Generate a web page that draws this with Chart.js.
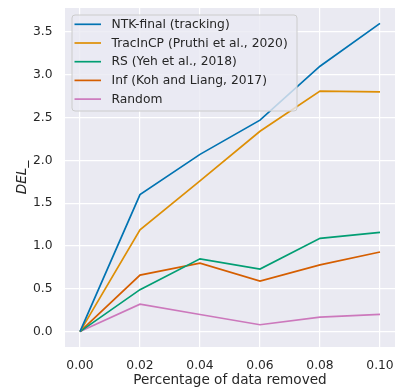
<!DOCTYPE html>
<html>
<head>
<meta charset="utf-8">
<script src="https://cdn.jsdelivr.net/npm/chart.js@4.4.0/dist/chart.umd.min.js"></script>
<style>
  html, body { margin: 0; padding: 0; background: #ffffff; }
  #wrap { width: 400px; height: 392px; }
</style>
</head>
<body>
<div id="wrap"><canvas id="c" width="400" height="392"></canvas></div>
<script>
// ---- data ----
const xValues = [0.00, 0.02, 0.04, 0.06, 0.08, 0.10];
const seriesNames = [
  "NTK-final (tracking)",
  "TracInCP (Pruthi et al., 2020)",
  "RS (Yeh et al., 2018)",
  "Inf (Koh and Liang, 2017)",
  "Random"
];
const ntkFinal = [0.00, 1.60, 2.07, 2.47, 3.10, 3.60];
const tracInCP = [0.00, 1.19, 1.76, 2.34, 2.81, 2.80];
const rsYeh    = [0.00, 0.49, 0.85, 0.73, 1.09, 1.16];
const infKoh   = [0.00, 0.66, 0.80, 0.59, 0.78, 0.93];
const randomS  = [0.00, 0.32, 0.20, 0.08, 0.17, 0.20];
const xTicks = [0.00, 0.02, 0.04, 0.06, 0.08, 0.10];
const yTicks = [0.0, 0.5, 1.0, 1.5, 2.0, 2.5, 3.0, 3.5];
const xTitle = "Percentage of data removed";
const yTitle = "DEL_";

const seriesValues = [ntkFinal, tracInCP, rsYeh, infKoh, randomS];
const colors = ["#0173B2", "#DE8F05", "#029E73", "#D55E00", "#CC78BC"];

const datasets = seriesNames.map((name, i) => ({
  label: name,
  data: xValues.map((x, j) => ({ x: x, y: seriesValues[i][j] })),
  borderColor: colors[i],
  backgroundColor: colors[i],
  borderWidth: 1.7,
  pointRadius: 0,
  tension: 0,
  fill: false
}));

const FONT = "'DejaVu Sans', 'Liberation Sans', sans-serif";

function zeroPad(scale) {
  scale.paddingTop = 0; scale.paddingBottom = 0;
  scale.paddingLeft = 0; scale.paddingRight = 0;
}

const bgPlugin = {
  id: 'bg',
  beforeDraw(chart) {
    const { ctx, chartArea: a } = chart;
    ctx.save();
    ctx.fillStyle = '#EAEAF2';
    ctx.fillRect(a.left, a.top, a.right - a.left, a.bottom - a.top);
    ctx.restore();
  }
};

const legendPlugin = {
  id: 'mplLegend',
  afterDatasetsDraw(chart) {
    const { ctx, chartArea: a } = chart;
    const bx = a.left + 7, by = a.top + 7, bw = 225, bh = 96, r = 3;
    ctx.save();
    ctx.beginPath();
    ctx.moveTo(bx + r, by);
    ctx.lineTo(bx + bw - r, by);
    ctx.quadraticCurveTo(bx + bw, by, bx + bw, by + r);
    ctx.lineTo(bx + bw, by + bh - r);
    ctx.quadraticCurveTo(bx + bw, by + bh, bx + bw - r, by + bh);
    ctx.lineTo(bx + r, by + bh);
    ctx.quadraticCurveTo(bx, by + bh, bx, by + bh - r);
    ctx.lineTo(bx, by + r);
    ctx.quadraticCurveTo(bx, by, bx + r, by);
    ctx.closePath();
    ctx.fillStyle = 'rgba(234,234,242,0.8)';
    ctx.fill();
    ctx.strokeStyle = '#CCCCCC';
    ctx.lineWidth = 1;
    ctx.stroke();
    ctx.font = "12.3px " + FONT;
    ctx.textBaseline = 'middle';
    ctx.textAlign = 'left';
    chart.data.datasets.forEach((ds, i) => {
      const cy = by + 9.3 + i * 18.7;
      ctx.strokeStyle = ds.borderColor;
      ctx.lineWidth = 1.7;
      ctx.beginPath();
      ctx.moveTo(bx + 2.5, cy);
      ctx.lineTo(bx + 29, cy);
      ctx.stroke();
      ctx.fillStyle = '#262626';
      ctx.fillText(ds.label, bx + 39.5, cy + 0.5);
    });
    ctx.restore();
  }
};

new Chart(document.getElementById('c'), {
  type: 'line',
  data: { datasets: datasets },
  options: {
    responsive: false,
    animation: false,
    devicePixelRatio: 1,
    layout: { padding: { top: 8, right: 5, left: 0, bottom: 0 } },
    plugins: {
      legend: { display: false },
      tooltip: { enabled: false }
    },
    scales: {
      x: {
        type: 'linear',
        min: -0.005,
        max: 0.105,
        afterFit(scale) { scale.height = 45; zeroPad(scale); },
        afterBuildTicks(scale) { scale.ticks = xTicks.map(v => ({ value: v })); },
        grid: { color: '#FFFFFF', lineWidth: 1.2, drawTicks: false },
        border: { display: false },
        ticks: {
          padding: 11,
          color: '#262626',
          font: { family: FONT, size: 12.3 },
          maxRotation: 0,
          autoSkip: false,
          callback: (v) => Number(v).toFixed(2)
        },
        title: {
          display: true,
          text: xTitle,
          color: '#262626',
          font: { family: FONT, size: 13.6 },
          padding: { top: 0, bottom: 3 }
        }
      },
      y: {
        type: 'linear',
        min: -0.18,
        max: 3.78,
        afterFit(scale) { scale.width = 65; zeroPad(scale); },
        afterBuildTicks(scale) { scale.ticks = yTicks.map(v => ({ value: v })); },
        grid: { color: '#FFFFFF', lineWidth: 1.2, drawTicks: false },
        border: { display: false },
        ticks: {
          padding: 12.5,
          color: '#262626',
          font: { family: FONT, size: 12.3 },
          autoSkip: false,
          callback: (v) => Number(v).toFixed(1)
        },
        title: {
          display: true,
          text: yTitle,
          color: '#262626',
          font: { family: FONT, size: 13.6, style: 'italic' },
          padding: { top: 14, bottom: 0 }
        }
      }
    }
  },
  plugins: [bgPlugin, legendPlugin]
});
</script>
</body>
</html>
